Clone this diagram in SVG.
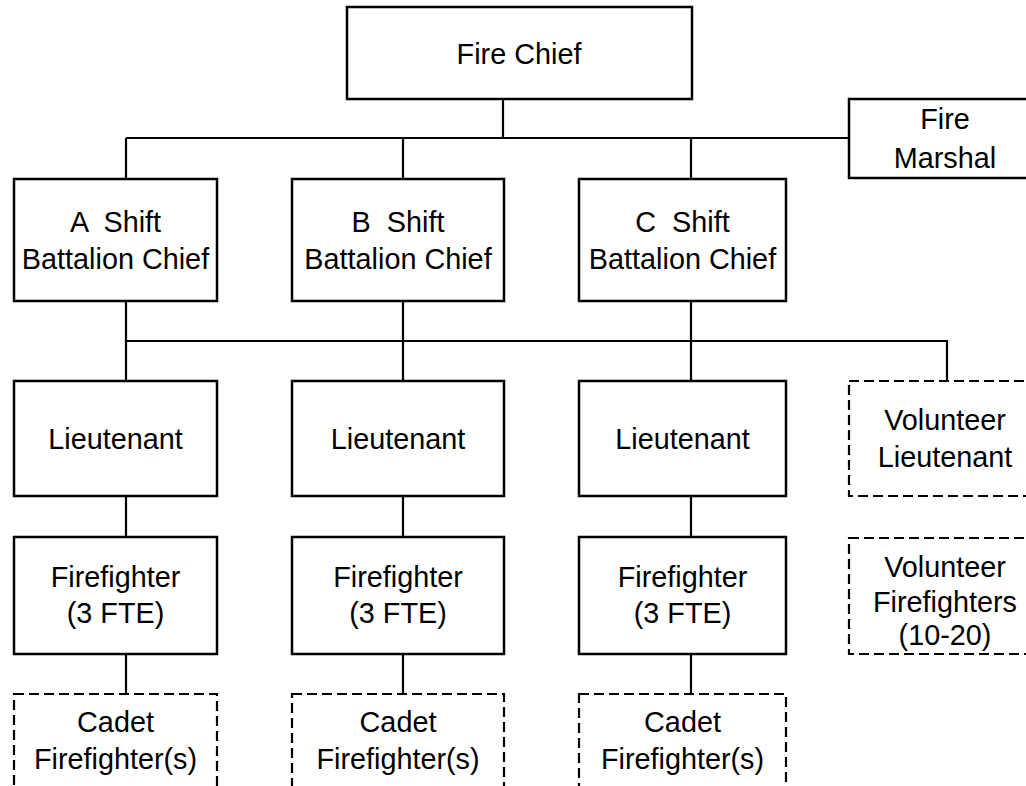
<svg xmlns="http://www.w3.org/2000/svg" width="1026" height="786" viewBox="0 0 1026 786">
<style>
.box{fill:#fff;stroke:#000;stroke-width:2.5}
.dash{fill:#fff;stroke:#000;stroke-width:2.2;stroke-dasharray:10 5}
.t{font-family:"Liberation Sans",Arial,sans-serif;font-size:28.8px;fill:#000;text-anchor:middle}
#connectors path{fill:none;stroke:#000;stroke-width:2.2}
</style>
<rect width="1026" height="786" fill="#fff"/>
<g id="connectors">
<path d="M503 99V138M126 138H849M126 138V179M403 138V179M691 138V179"/>
<path d="M126 301V381M403 301V381M691 301V381M126 341H947V381"/>
<path d="M126 496V537M403 496V537M691 496V537"/>
<path d="M126 654V694M403 654V694M691 654V694"/>
</g>
<g id="fire-chief"><rect class="box" x="347" y="7" width="345" height="92"/><text class="t" x="519" y="64">Fire Chief</text></g>
<g id="fire-marshal"><rect class="box" x="849" y="99" width="192" height="79"/><text class="t" x="945" y="129">Fire</text><text class="t" x="945" y="168">Marshal</text></g>
<g id="a-shift"><rect class="box" x="14" y="179" width="203" height="122"/><text class="t" x="115.5" y="232" xml:space="preserve">A  Shift</text><text class="t" x="115.5" y="269">Battalion Chief</text></g>
<g id="b-shift"><rect class="box" x="292" y="179" width="212" height="122"/><text class="t" x="398" y="232" xml:space="preserve">B  Shift</text><text class="t" x="398" y="269">Battalion Chief</text></g>
<g id="c-shift"><rect class="box" x="579" y="179" width="207" height="122"/><text class="t" x="682.5" y="232" xml:space="preserve">C  Shift</text><text class="t" x="682.5" y="269">Battalion Chief</text></g>
<g id="lt-a"><rect class="box" x="14" y="381" width="203" height="115"/><text class="t" x="115.5" y="449">Lieutenant</text></g>
<g id="lt-b"><rect class="box" x="292" y="381" width="212" height="115"/><text class="t" x="398" y="449">Lieutenant</text></g>
<g id="lt-c"><rect class="box" x="579" y="381" width="207" height="115"/><text class="t" x="682.5" y="449">Lieutenant</text></g>
<g id="vol-lt"><rect class="dash" x="849" y="381" width="192" height="115"/><text class="t" x="945" y="430">Volunteer</text><text class="t" x="945" y="467">Lieutenant</text></g>
<g id="ff-a"><rect class="box" x="14" y="537" width="203" height="117"/><text class="t" x="115.5" y="587">Firefighter</text><text class="t" x="115.5" y="623">(3 FTE)</text></g>
<g id="ff-b"><rect class="box" x="292" y="537" width="212" height="117"/><text class="t" x="398" y="587">Firefighter</text><text class="t" x="398" y="623">(3 FTE)</text></g>
<g id="ff-c"><rect class="box" x="579" y="537" width="207" height="117"/><text class="t" x="682.5" y="587">Firefighter</text><text class="t" x="682.5" y="623">(3 FTE)</text></g>
<g id="vol-ff"><rect class="dash" x="849" y="538" width="192" height="116"/><text class="t" x="945" y="577">Volunteer</text><text class="t" x="945" y="612">Firefighters</text><text class="t" x="945" y="645">(10-20)</text></g>
<g id="cadet-a"><rect class="dash" x="14" y="694" width="203" height="120"/><text class="t" x="115.5" y="732">Cadet</text><text class="t" x="115.5" y="769">Firefighter(s)</text></g>
<g id="cadet-b"><rect class="dash" x="292" y="694" width="212" height="120"/><text class="t" x="398" y="732">Cadet</text><text class="t" x="398" y="769">Firefighter(s)</text></g>
<g id="cadet-c"><rect class="dash" x="579" y="694" width="207" height="120"/><text class="t" x="682.5" y="732">Cadet</text><text class="t" x="682.5" y="769">Firefighter(s)</text></g>
</svg>
